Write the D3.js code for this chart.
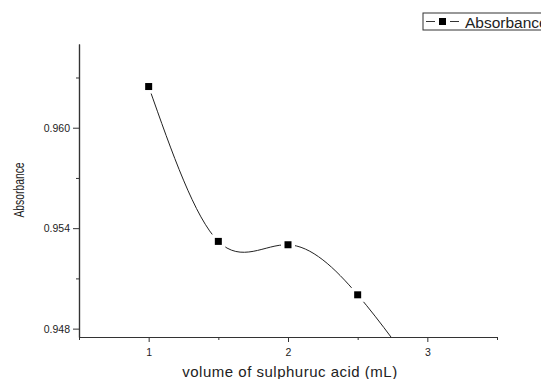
<!DOCTYPE html>
<html>
<head>
<meta charset="utf-8">
<script src="https://cdn.jsdelivr.net/npm/d3@7"></script>
<style>
  body { margin: 0; background: #fff; overflow: hidden; }
  text { font-family: "Liberation Sans", Arial, sans-serif; fill: #222; }
</style>
</head>
<body>
<svg id="chart" width="541" height="379"></svg>
<script>
// data
var volumes = [1, 1.5, 2, 2.5, 3];
var absorbance = [0.96246, 0.95321, 0.95301, 0.95002, 0.9445];
var xTicks = [1, 2, 3];
var xMinor = [0.5, 1.5, 2.5, 3.5];
var yTicks = [0.948, 0.954, 0.960];
var yMinor = [0.951, 0.957, 0.963];

var svg = d3.select("#chart");
var plotLeft = 79, plotRight = 497, plotTop = 44, plotBottom = 337;

var x = d3.scaleLinear().domain([0.5, 3.5]).range([plotLeft, plotRight]);
var y = d3.scaleLinear().domain([0.9475, 0.965]).range([plotBottom, plotTop]);

svg.append("defs").append("clipPath").attr("id", "plotclip")
    .append("rect")
    .attr("x", plotLeft).attr("y", plotTop)
    .attr("width", plotRight - plotLeft).attr("height", plotBottom - plotTop);

// axes
var xAxis = svg.append("g").attr("transform", "translate(0," + plotBottom + ")")
    .call(d3.axisBottom(x).tickValues(xTicks).tickFormat(d3.format("d")).tickSize(5).tickSizeOuter(0));
var xAxisMinor = svg.append("g").attr("transform", "translate(0," + plotBottom + ")")
    .call(d3.axisBottom(x).tickValues(xMinor).tickFormat("").tickSize(3).tickSizeOuter(0));
var yAxis = svg.append("g").attr("transform", "translate(" + plotLeft + ",0)")
    .call(d3.axisLeft(y).tickValues(yTicks).tickFormat(d3.format(".3f")).tickSize(6).tickSizeOuter(0));
var yAxisMinor = svg.append("g").attr("transform", "translate(" + plotLeft + ",0)")
    .call(d3.axisLeft(y).tickValues(yMinor).tickFormat("").tickSize(3).tickSizeOuter(0));

[xAxis, xAxisMinor, yAxis, yAxisMinor].forEach(function (g) {
    g.selectAll("path.domain").attr("stroke", "#333").attr("stroke-width", 1.2);
    g.selectAll(".tick line").attr("stroke", "#333");
    g.selectAll(".tick text").attr("font-size", 10.5).attr("fill", "#333")
        .attr("font-family", "Liberation Sans, Arial, sans-serif");
});
xAxis.selectAll(".tick text").attr("dy", "1em");
yAxis.selectAll(".tick text").attr("x", -9);

// axis titles
svg.append("text")
    .attr("x", 290).attr("y", 377)
    .attr("text-anchor", "middle")
    .attr("font-size", 15)
    .attr("letter-spacing", 0.5)
    .text("volume of sulphuruc acid (mL)");

// the reference's y title is drawn narrow, so squeeze it along its length
svg.append("text")
    .attr("transform", "translate(24,190) rotate(-90) scale(0.74,1)")
    .attr("text-anchor", "middle")
    .attr("font-size", 14)
    .text("Absorbance");

// spline through the points
var pts = volumes.map(function (v, i) { return [v, absorbance[i]]; });
var line = d3.line()
    .x(function (d) { return x(d[0]); })
    .y(function (d) { return y(d[1]); })
    .curve(d3.curveNatural);

var plot = svg.append("g").attr("clip-path", "url(#plotclip)");
plot.append("path")
    .datum(pts)
    .attr("d", line)
    .attr("fill", "none")
    .attr("stroke", "#222")
    .attr("stroke-width", 1);

// white halo under markers makes the gap in the line
var shown = pts.filter(function (d) { return d[1] >= y.domain()[0]; });
plot.selectAll("rect.halo")
    .data(shown)
    .enter().append("rect")
    .attr("class", "halo")
    .attr("x", function (d) { return x(d[0]) - 7; })
    .attr("y", function (d) { return y(d[1]) - 7; })
    .attr("width", 14).attr("height", 14)
    .attr("fill", "#fff");
plot.selectAll("rect.mark")
    .data(shown)
    .enter().append("rect")
    .attr("class", "mark")
    .attr("x", function (d) { return x(d[0]) - 3.5; })
    .attr("y", function (d) { return y(d[1]) - 3.5; })
    .attr("width", 7).attr("height", 7)
    .attr("fill", "#000");

// legend (runs past the right edge, as in the reference)
var lg = svg.append("g").attr("transform", "translate(423,13)");
lg.append("rect")
    .attr("x", 0).attr("y", 0).attr("width", 140).attr("height", 17)
    .attr("fill", "#fff").attr("stroke", "#333").attr("stroke-width", 1);
lg.append("line").attr("x1", 3).attr("x2", 36).attr("y1", 8.5).attr("y2", 8.5)
    .attr("stroke", "#333");
lg.append("rect").attr("x", 12).attr("y", 4.5).attr("width", 15).attr("height", 8).attr("fill", "#fff");
lg.append("rect").attr("x", 16).attr("y", 5).attr("width", 7).attr("height", 7).attr("fill", "#000");
lg.append("text").attr("x", 42).attr("y", 14.5).attr("font-size", 15.5).text("Absorbance");
</script>
</body>
</html>
